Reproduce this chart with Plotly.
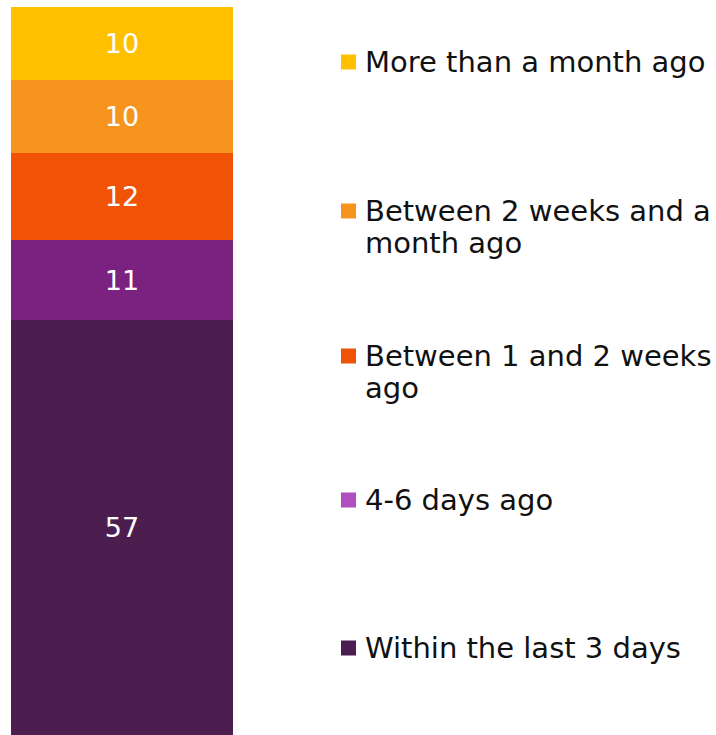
import plotly.graph_objects as go

categories = ["Within the last 3 days", "4-6 days ago", "Between 1 and 2 weeks ago",
              "Between 2 weeks and a month ago", "More than a month ago"]
legend_lines = [["Within the last 3 days"], ["4-6 days ago"], ["Between 1 and 2 weeks", "ago"],
                ["Between 2 weeks and a", "month ago"], ["More than a month ago"]]
values = [57, 11, 12, 10, 10]
bar_colors = ["#4B1E4F", "#7B2280", "#F05206", "#F7941D", "#FFC000"]
key_colors = ["#4B1E4F", "#B04FC0", "#F05206", "#F7941D", "#FFC000"]

W, H, TOP = 716, 735, 7
PH = H - TOP  # plot-area height; paper coords are relative to it


def py(pix):
    return 1 - (pix - TOP) / PH


fig = go.Figure()
for name, v, c in zip(categories, values, bar_colors):
    fig.add_trace(go.Bar(
        x=[""], y=[v], name=name, marker_color=c, marker_line_width=0,
        text=[str(v)], textposition="inside", insidetextanchor="middle",
        textfont=dict(color="white", size=27, family="DejaVu Sans"),
        showlegend=False,
    ))

# hand-made legend on the right (pixel centres of each entry's first line)
key_y = [648, 500, 356, 211, 62]
line_gap = 32
for lines, col, yc in zip(legend_lines, key_colors, key_y):
    fig.add_shape(type="rect", xref="paper", yref="paper",
                  x0=341 / W, x1=356 / W, y0=py(yc + 7.5), y1=py(yc - 7.5),
                  fillcolor=col, line_width=0)
    for i, ln in enumerate(lines):
        fig.add_annotation(text=ln, xref="paper", yref="paper",
                           x=363 / W, y=py(yc + i * line_gap),
                           xanchor="left", yanchor="middle", showarrow=False,
                           font=dict(size=29, color="#111111", family="DejaVu Sans"))

fig.update_layout(
    width=W, height=H, barmode="stack", bargap=0,
    margin=dict(l=0, r=0, t=TOP, b=0),
    plot_bgcolor="white", paper_bgcolor="white",
    xaxis=dict(domain=[11 / W, 233 / W], visible=False),
    yaxis=dict(range=[0, 100], visible=False),
    uniformtext=dict(minsize=10, mode="show"),
)

fig.write_html("out.html", config={"displayModeBar": False},
               post_script="document.body.style.margin='0';document.body.style.overflow='hidden';")
